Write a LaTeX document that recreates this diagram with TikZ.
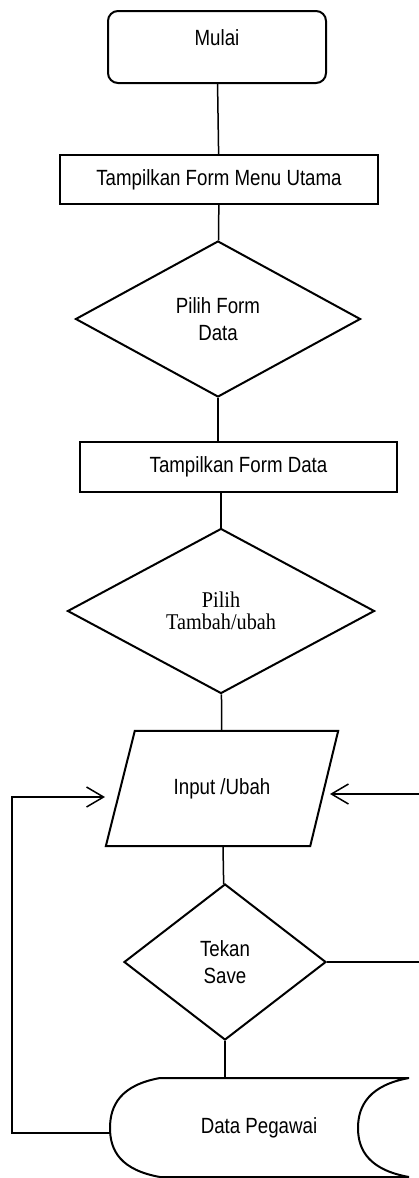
\documentclass[tikz,border=0pt]{standalone}
\usepackage{fontspec}
\usetikzlibrary{shapes.geometric,arrows.meta}
\newfontfamily\flowsans[FakeStretch=0.85]{Liberation Sans}
\newfontfamily\flowserif[FakeStretch=0.9]{Liberation Serif}

\begin{document}
\begin{tikzpicture}[x=1pt,y=-1pt,
  sanstxt/.style={font=\flowsans\fontsize{22}{27.5}\selectfont, align=center},
  seriftxt/.style={font=\flowserif\fontsize{22.5}{22}\selectfont, align=center},
  outline/.style={draw, line width=2pt},
  term/.style={outline, rounded corners=10pt, inner sep=0pt},
  proc/.style={outline, rectangle, inner sep=0pt, sanstxt},
  decide/.style={outline, diamond, inner sep=0pt},
  ghost/.style={rectangle, inner sep=0pt, sanstxt},
  conn/.style={line width=1.5pt},
  flow/.style={conn, -{Straight Barb[length=17pt,width=20pt]}}
]
\path[use as bounding box, fill=white] (0,0) rectangle (419,1178);

% terminal
\node[term, minimum width=218pt, minimum height=72pt] (start) at (217,47) {};
\node[sanstxt] (startlbl) at (217,38) {Mulai};

% main menu form
\node[proc, minimum width=318pt, minimum height=49pt] (tmu) at (219,179.5) {Tampilkan Form Menu Utama};

% choose data form
\node[decide, sanstxt, minimum width=285pt, minimum height=156pt] (d1) at (218,319) {Pilih Form\\Data};

% data form
\node[proc, minimum width=317pt, minimum height=50pt] (tfd) at (238.5,467) {Tampilkan Form Data};

% add / edit choice
\node[decide, seriftxt, minimum width=307pt, minimum height=165pt] (d2) at (221,611) {Pilih\\Tambah/ubah};

% input parallelogram
\node[ghost, minimum width=232pt, minimum height=115pt] (inp) at (222,788.5) {Input /Ubah};
\draw[outline] ([xshift=29pt]inp.north west) -- (inp.north east)
  -- ([xshift=-28pt]inp.south east) -- (inp.south west) -- cycle;

% save decision
\node[decide, sanstxt, minimum width=202pt, minimum height=156pt] (d3) at (225,962) {Tekan\\Save};

% stored data
\node[ghost, minimum width=298pt, minimum height=99pt] (db) at (259,1127.5) {Data Pegawai};
\draw[outline] (160,1078) -- (409,1078)
  .. controls (370,1085) and (358,1105) .. (358,1128)
  .. controls (358,1151) and (370,1170) .. (409,1177)
  -- (160,1177)
  .. controls (121,1170) and (110,1151) .. (110,1128)
  .. controls (110,1105) and (121,1085) .. (160,1078) -- cycle;

% connectors
\draw[conn] (start) -- (tmu);
\draw[conn] (tmu) -- (d1);
\draw[conn] (d1.south) -- (d1.south |- tfd.north);
\draw[conn] (d2.north |- tfd.south) -- (d2.north);
\draw[conn] (d2) -- (inp);
\draw[conn] (inp) -- (d3);
\draw[conn] (d3.south) -- (d3.south |- db.north);

% feedback loops
\coordinate (loopBL) at (12,1133);
\coordinate (loopTL) at (12,797);
\coordinate (inL) at (105,797);
\coordinate (inR) at (330,794);
\coordinate (loopR) at (432,794);
\draw[flow] (db.west |- loopBL) -- (loopBL) -- (loopTL) -- (inL);
\draw[conn] (d3.east) -- (d3.east -| loopR) -- (loopR);
\draw[flow] (loopR) -- (inR);
\end{tikzpicture}
\end{document}
